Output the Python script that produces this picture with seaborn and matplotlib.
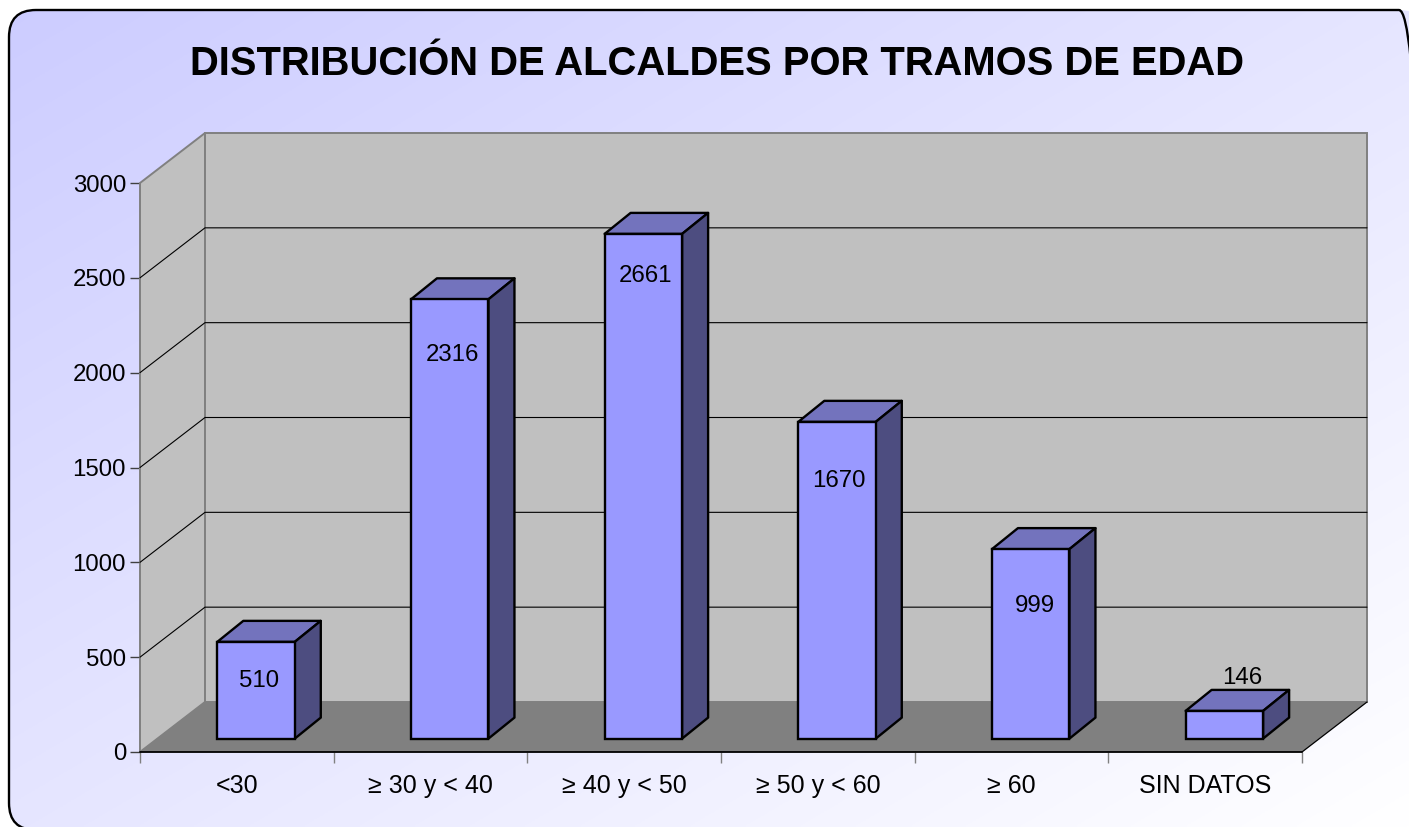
import numpy as np
import pandas as pd
import matplotlib
matplotlib.use('Agg')
import matplotlib.pyplot as plt
from matplotlib.patches import FancyBboxPatch, Polygon
import seaborn as sns

# Data
categories = ['<30', '≥ 30 y < 40', '≥ 40 y < 50', '≥ 50 y < 60', '≥ 60', 'SIN DATOS']
alcaldes = [510, 2316, 2661, 1670, 999, 146]
y_ticks = [0, 500, 1000, 1500, 2000, 2500, 3000]

# Hand placed value labels, pixels from the top of each bar's front face
label_dx = [3, 3, 2, 2, 4, 18]
label_dy = [39, 56, 42, 59, 57, -33]

W, H = 1409, 827
sns.set_style('white')
plt.rcParams['font.family'] = ['Liberation Sans', 'DejaVu Sans']

fig = plt.figure(figsize=(W / 100, H / 100), dpi=100, facecolor='white')

# Rounded background with diagonal gradient, it runs off the right and bottom edge
bg = fig.add_axes([0, 0, 1, 1])
bg.axis('off')
xx, yy = np.meshgrid(np.linspace(0, 1, 400), np.linspace(1, 0, 300))
t = (xx + yy) / 2
grad = np.dstack([204 + 51 * t, 204 + 51 * t, 255 + 0 * t]) / 255
im = bg.imshow(grad, extent=[0, W, 0, H], aspect='auto', origin='lower', zorder=1)
box = FancyBboxPatch((9 + 27, H - 830 + 27), 1417 - 54, 820 - 54,
                     boxstyle='round,pad=27,rounding_size=27',
                     fc='none', ec='black', lw=1.7, zorder=2, clip_on=False)
bg.add_patch(box)
im.set_clip_path(box)
bg.set_xlim(0, W)
bg.set_ylim(0, H)

bg.text(717.5, H - 64, 'DISTRIBUCIÓN DE ALCALDES POR TRAMOS DE EDAD', fontsize=28.8,
        fontweight='bold', ha='center', va='center', color='black', zorder=3)

# Front plane of the chart box: x 140-1302, y 183-752 px
left, right, top, bottom = 140, 1302, 183, 752
ax = fig.add_axes([left / W, 1 - bottom / H, (right - left) / W, (bottom - top) / H])
ax.patch.set_alpha(0)

df = pd.DataFrame({'tramo': categories, 'alcaldes': alcaldes})
sns.barplot(data=df, x='tramo', y='alcaldes', color='#9999ff', saturation=1,
            width=77.5 / 193.67, edgecolor='black', linewidth=1.7, ax=ax, zorder=5)

n = len(categories)
ax.set_xlim(-0.5, n - 0.5)
ax.set_ylim(0, 3000)
px_x = n / (right - left)
px_y = 3000 / (bottom - top)

# Depth of the box and where the bars sit in it
wall_dx, wall_dy = 65 * px_x, 50 * px_y
bar_sx, bar_sy = 19.2 * px_x, 13.4 * px_y
bar_dx, bar_dy = 26 * px_x, 21 * px_y
xmin, xmax = -0.5, n - 0.5


def face(points, **kw):
    ax.add_patch(Polygon(points, closed=True, clip_on=False, **kw))


# Walls and floor
face([(xmin, 0), (xmin + wall_dx, wall_dy), (xmin + wall_dx, 3000 + wall_dy), (xmin, 3000)],
     fc='#c0c0c0', ec='#808080', lw=1.4, zorder=1)
face([(xmin + wall_dx, wall_dy), (xmax + wall_dx, wall_dy), (xmax + wall_dx, 3000 + wall_dy),
      (xmin + wall_dx, 3000 + wall_dy)], fc='#c0c0c0', ec='#808080', lw=1.4, zorder=1)
face([(xmin, 0), (xmin + wall_dx, wall_dy), (xmax + wall_dx, wall_dy), (xmax, 0)],
     fc='#808080', ec='none', zorder=1.5)
ax.plot([xmax, xmax + wall_dx], [0, wall_dy], color='black', lw=0.9, clip_on=False, zorder=2)
ax.plot([xmin, xmax], [0, 0], color='black', lw=1.3, clip_on=False, zorder=2)

# Gridlines on side and back wall
for v in y_ticks[1:-1]:
    ax.plot([xmin, xmin + wall_dx, xmax + wall_dx], [v, v + wall_dy, v + wall_dy],
            color='black', lw=0.8, clip_on=False, zorder=2)

# Move the bars into the box and add their top and side faces
for i, p in enumerate(ax.containers[0]):
    p.set_x(p.get_x() + bar_sx)
    p.set_y(bar_sy)
    p.set_clip_on(False)
    x0, w, h = p.get_x(), p.get_width(), p.get_height()
    y0 = bar_sy
    y1 = y0 + h
    face([(x0, y1), (x0 + w, y1), (x0 + w + bar_dx, y1 + bar_dy), (x0 + bar_dx, y1 + bar_dy)],
         fc='#7373bd', ec='black', lw=1.7, joinstyle='round', zorder=4)
    face([(x0 + w, y0), (x0 + w + bar_dx, y0 + bar_dy), (x0 + w + bar_dx, y1 + bar_dy), (x0 + w, y1)],
         fc='#4d4d80', ec='black', lw=1.7, joinstyle='round', zorder=4)
    ax.annotate(str(alcaldes[i]), (x0 + w / 2, y1), xytext=(label_dx[i] * 0.72, -label_dy[i] * 0.72),
                textcoords='offset points', ha='center', va='center', fontsize=17.3,
                color='black', zorder=6, annotation_clip=False)

# Axes furniture
sns.despine(ax=ax, left=True, bottom=True, top=True, right=True)
ax.set_xlabel('')
ax.set_ylabel('')
ax.set_yticks(y_ticks)
ax.set_xticks(np.arange(n + 1) - 0.5)
ax.set_xticklabels([])
ax.set_xticks(np.arange(n), labels=categories, minor=True)
ax.tick_params(axis='y', which='major', left=True, length=7.5, width=1, color='#404040',
               labelsize=17.3, pad=2.5, labelcolor='black')
ax.tick_params(axis='x', which='major', bottom=True, length=8, width=1, color='#808080')
ax.tick_params(axis='x', which='minor', bottom=False, length=0, labelsize=18, pad=15.5,
               labelcolor='black')

fig.savefig('out.png', dpi=100)
